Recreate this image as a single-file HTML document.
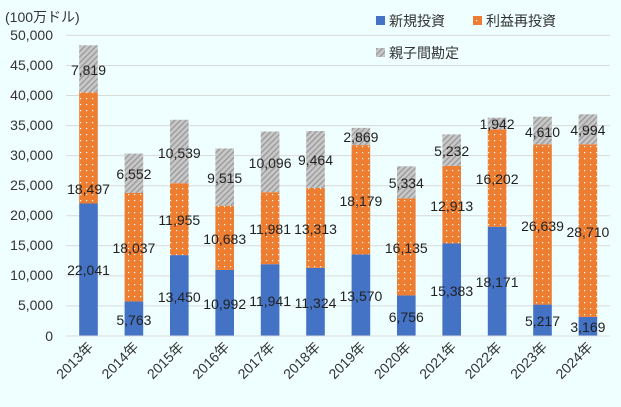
<!DOCTYPE html>
<html><head><meta charset="utf-8"><style>
html,body{margin:0;padding:0;background:#effefe;}
svg{display:block;font-family:"Liberation Sans","Noto Sans CJK JP",sans-serif;}
</style></head><body>
<svg width="621" height="407" viewBox="0 0 621 407" xmlns="http://www.w3.org/2000/svg">
<defs>
<pattern id="dots" width="6" height="6" patternUnits="userSpaceOnUse"><rect width="6" height="6" fill="#ed7d31"/><rect x="2" y="2" width="1.2" height="1.2" fill="#fff"/></pattern>
<pattern id="hatch" width="4" height="4" patternUnits="userSpaceOnUse" patternTransform="rotate(45)"><rect width="4" height="4" fill="#c8c8c8"/><rect width="1.3" height="4" fill="#999"/></pattern>
</defs>
<rect width="621" height="407" fill="#effefe"/>
<g stroke="#d9d9d9" stroke-width="1">
<line x1="66" x2="610" y1="35.4" y2="35.4"/><line x1="66" x2="610" y1="65.5" y2="65.5"/><line x1="66" x2="610" y1="95.5" y2="95.5"/><line x1="66" x2="610" y1="125.6" y2="125.6"/><line x1="66" x2="610" y1="155.6" y2="155.6"/><line x1="66" x2="610" y1="185.7" y2="185.7"/><line x1="66" x2="610" y1="215.8" y2="215.8"/><line x1="66" x2="610" y1="245.8" y2="245.8"/><line x1="66" x2="610" y1="275.9" y2="275.9"/><line x1="66" x2="610" y1="305.9" y2="305.9"/><line x1="66" x2="610" y1="336" y2="336"/>
</g>
<g font-size="14" fill="#333" text-anchor="end">
<text x="53" y="40">50,000</text><text x="53" y="70">45,000</text><text x="53" y="100">40,000</text><text x="53" y="130">35,000</text><text x="53" y="160">30,000</text><text x="53" y="190">25,000</text><text x="53" y="220">20,000</text><text x="53" y="250">15,000</text><text x="53" y="280">10,000</text><text x="53" y="310">5,000</text><text x="53" y="341">0</text>
</g>
<text x="5" y="22" font-size="14" fill="#333">(100万ドル)</text>
<g>
<rect x="79.2" y="203.5" width="18.6" height="132.5" fill="#4472c4"/><rect x="79.2" y="92.3" width="18.6" height="111.2" fill="url(#dots)"/><rect x="79.2" y="45.3" width="18.6" height="47" fill="url(#hatch)"/>
<rect x="124.6" y="301.4" width="18.6" height="34.6" fill="#4472c4"/><rect x="124.6" y="193" width="18.6" height="108.4" fill="url(#dots)"/><rect x="124.6" y="153.6" width="18.6" height="39.4" fill="url(#hatch)"/>
<rect x="170" y="255.1" width="18.6" height="80.9" fill="#4472c4"/><rect x="170" y="183.2" width="18.6" height="71.9" fill="url(#dots)"/><rect x="170" y="119.8" width="18.6" height="63.4" fill="url(#hatch)"/>
<rect x="215.4" y="269.9" width="18.6" height="66.1" fill="#4472c4"/><rect x="215.4" y="205.7" width="18.6" height="64.2" fill="url(#dots)"/><rect x="215.4" y="148.5" width="18.6" height="57.2" fill="url(#hatch)"/>
<rect x="260.8" y="264.2" width="18.6" height="71.8" fill="#4472c4"/><rect x="260.8" y="192.2" width="18.6" height="72" fill="url(#dots)"/><rect x="260.8" y="131.5" width="18.6" height="60.7" fill="url(#hatch)"/>
<rect x="306.2" y="267.9" width="18.6" height="68.1" fill="#4472c4"/><rect x="306.2" y="187.9" width="18.6" height="80" fill="url(#dots)"/><rect x="306.2" y="131" width="18.6" height="56.9" fill="url(#hatch)"/>
<rect x="351.6" y="254.4" width="18.6" height="81.6" fill="#4472c4"/><rect x="351.6" y="145.1" width="18.6" height="109.3" fill="url(#dots)"/><rect x="351.6" y="127.9" width="18.6" height="17.2" fill="url(#hatch)"/>
<rect x="397" y="295.4" width="18.6" height="40.6" fill="#4472c4"/><rect x="397" y="198.4" width="18.6" height="97" fill="url(#dots)"/><rect x="397" y="166.3" width="18.6" height="32.1" fill="url(#hatch)"/>
<rect x="442.4" y="243.5" width="18.6" height="92.5" fill="#4472c4"/><rect x="442.4" y="165.9" width="18.6" height="77.6" fill="url(#dots)"/><rect x="442.4" y="134.4" width="18.6" height="31.5" fill="url(#hatch)"/>
<rect x="487.8" y="226.8" width="18.6" height="109.2" fill="#4472c4"/><rect x="487.8" y="129.4" width="18.6" height="97.4" fill="url(#dots)"/><rect x="487.8" y="117.7" width="18.6" height="11.7" fill="url(#hatch)"/>
<rect x="533.2" y="304.6" width="18.6" height="31.4" fill="#4472c4"/><rect x="533.2" y="144.4" width="18.6" height="160.2" fill="url(#dots)"/><rect x="533.2" y="116.7" width="18.6" height="27.7" fill="url(#hatch)"/>
<rect x="578.6" y="316.9" width="18.6" height="19.1" fill="#4472c4"/><rect x="578.6" y="144.3" width="18.6" height="172.6" fill="url(#dots)"/><rect x="578.6" y="114.3" width="18.6" height="30" fill="url(#hatch)"/>
</g>
<line x1="66" x2="610" y1="336" y2="336" stroke="#d9d9d9"/>
<g font-size="14" fill="#222" text-anchor="middle">
<text x="88.5" y="275">22,041</text><text x="88.5" y="194">18,497</text><text x="88.5" y="75">7,819</text>
<text x="133.9" y="325">5,763</text><text x="133.9" y="253">18,037</text><text x="133.9" y="179">6,552</text>
<text x="179.3" y="302">13,450</text><text x="179.3" y="225">11,955</text><text x="179.3" y="158">10,539</text>
<text x="224.7" y="309">10,992</text><text x="224.7" y="244">10,683</text><text x="224.7" y="183">9,515</text>
<text x="270.1" y="306">11,941</text><text x="270.1" y="234">11,981</text><text x="270.1" y="168">10,096</text>
<text x="315.5" y="308">11,324</text><text x="315.5" y="234">13,313</text><text x="315.5" y="165">9,464</text>
<text x="360.9" y="301">13,570</text><text x="360.9" y="206">18,179</text><text x="360.9" y="142">2,869</text>
<text x="406.3" y="322">6,756</text><text x="406.3" y="253">16,135</text><text x="406.3" y="188">5,334</text>
<text x="451.7" y="296">15,383</text><text x="451.7" y="211">12,913</text><text x="451.7" y="156">5,232</text>
<text x="497.1" y="287">18,171</text><text x="497.1" y="184">16,202</text><text x="497.1" y="129">1,942</text>
<text x="542.5" y="326">5,217</text><text x="542.5" y="231">26,639</text><text x="542.5" y="137">4,610</text>
<text x="587.9" y="332">3,169</text><text x="587.9" y="237">28,710</text><text x="587.9" y="135">4,994</text>
</g>
<g font-size="14" fill="#333" text-anchor="end">
<text transform="translate(94,348) rotate(-45)">2013年</text>
<text transform="translate(139.4,348) rotate(-45)">2014年</text>
<text transform="translate(184.8,348) rotate(-45)">2015年</text>
<text transform="translate(230.2,348) rotate(-45)">2016年</text>
<text transform="translate(275.6,348) rotate(-45)">2017年</text>
<text transform="translate(321,348) rotate(-45)">2018年</text>
<text transform="translate(366.4,348) rotate(-45)">2019年</text>
<text transform="translate(411.8,348) rotate(-45)">2020年</text>
<text transform="translate(457.2,348) rotate(-45)">2021年</text>
<text transform="translate(502.6,348) rotate(-45)">2022年</text>
<text transform="translate(548,348) rotate(-45)">2023年</text>
<text transform="translate(593.4,348) rotate(-45)">2024年</text>
</g>
<g font-size="14" fill="#333">
<rect x="376" y="16" width="9" height="9" fill="#4472c4"/><text x="389" y="26">新規投資</text>
<rect x="473" y="16" width="9" height="9" fill="url(#dots)"/><text x="486" y="26">利益再投資</text>
<rect x="376" y="48" width="9" height="9" fill="url(#hatch)"/><text x="389" y="58">親子間勘定</text>
</g>
</svg>
</body></html>
